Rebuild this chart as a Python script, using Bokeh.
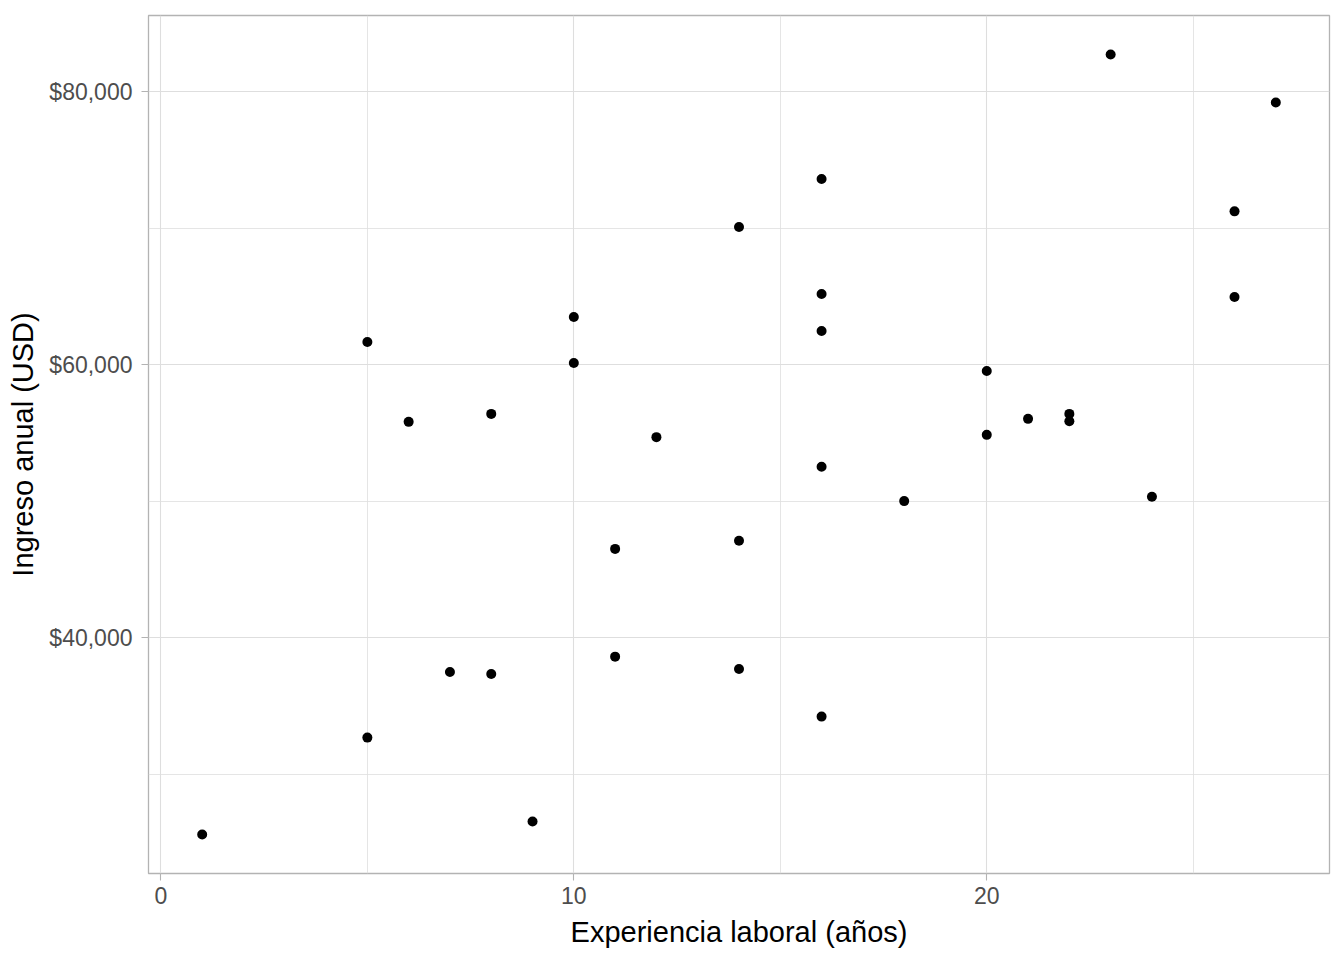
from bokeh.plotting import figure
from bokeh.models import FixedTicker, Range1d, NumeralTickFormatter
from bokeh.embed import file_html
from bokeh.resources import INLINE

# Data
experiencia = [1, 5, 5, 6, 7, 8, 8, 9, 10, 10, 11, 11, 12, 14, 14, 14,
               16, 16, 16, 16, 16, 18, 20, 20, 21, 22, 22, 23, 24, 26, 26, 27]
ingreso = [25595, 61683, 32695, 55827, 37505, 56412, 37358, 26547, 63513, 60146,
           46520, 38625, 54707, 70101, 47116, 37724,
           73614, 65196, 62488, 52533, 34233, 50022, 59560, 54875, 56046,
           56412, 55878, 82742, 50337, 71250, 64977, 79229]

x_major = [0, 10, 20]
x_minor = [5, 15, 25]
y_major = [40000, 60000, 80000]
y_minor = [30000, 50000, 70000]
x_title = "Experiencia laboral (años)"
y_title = "Ingreso anual (USD)"

def expand(vals, f=0.05):
    lo, hi = min(vals), max(vals)
    d = (hi - lo) * f
    return lo - d, hi + d

xr = expand(experiencia)
yr = expand(ingreso)

FONT = "Liberation Sans"
BORDER = "#B3B3B3"
GRID = "#DEDEDE"

p = figure(width=1344, height=960, output_backend="svg", toolbar_location=None,
           x_range=Range1d(*xr), y_range=Range1d(*yr),
           min_border_left=148, min_border_right=15, min_border_top=15, min_border_bottom=87,
           background_fill_color="white", border_fill_color="white")

p.outline_line_color = BORDER
p.outline_line_width = 1.3

p.xaxis.ticker = FixedTicker(ticks=x_major, minor_ticks=x_minor)
p.yaxis.ticker = FixedTicker(ticks=y_major, minor_ticks=y_minor)
p.yaxis.formatter = NumeralTickFormatter(format="$0,0")

for ax in (p.xaxis, p.yaxis):
    ax.axis_line_color = None
    ax.major_tick_line_color = BORDER
    ax.major_tick_line_width = 1.1
    ax.major_tick_out = 7
    ax.major_tick_in = 0
    ax.minor_tick_line_color = None
    ax.major_label_text_font = FONT
    ax.major_label_text_font_size = "23px"
    ax.major_label_text_color = "#4D4D4D"
    ax.axis_label_text_font = FONT
    ax.axis_label_text_font_size = "29px"
    ax.axis_label_text_font_style = "normal"
    ax.axis_label_text_color = "black"

p.xaxis.axis_label = x_title
p.yaxis.axis_label = y_title
p.xaxis.major_label_standoff = 6
p.yaxis.major_label_standoff = 9
p.xaxis.axis_label_standoff = 9
p.yaxis.axis_label_standoff = 7

for g in (p.xgrid, p.ygrid):
    g.grid_line_color = GRID
    g.grid_line_width = 1.1
    g.minor_grid_line_color = GRID
    g.minor_grid_line_width = 0.8

p.scatter(experiencia, ingreso, size=10, fill_color="black", line_color=None)

open("out.html", "w").write(file_html(p, INLINE))
